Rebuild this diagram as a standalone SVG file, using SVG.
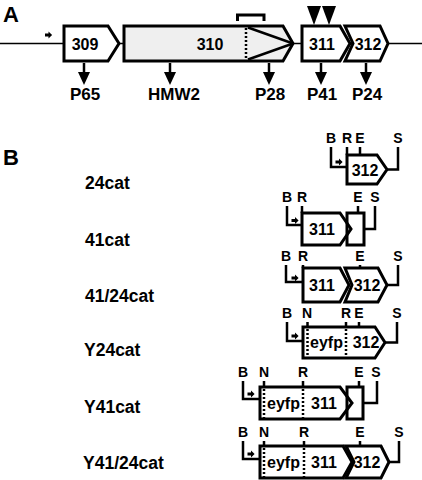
<svg xmlns="http://www.w3.org/2000/svg" width="422" height="480" viewBox="0 0 422 480">
<style>
text{font-family:"Liberation Sans",Arial,sans-serif;font-weight:bold;fill:#000}
.panel{font-size:22px}
.gl{font-size:16px;text-anchor:middle}
.pl{font-size:17px;text-anchor:middle}
.rl{font-size:17.5px}
.sl{font-size:14px;text-anchor:middle}
.box{fill:#fff;stroke:#000;stroke-width:3;stroke-linejoin:miter}
.open{fill:none;stroke:#000;stroke-width:3}
.ln{fill:none;stroke:#000;stroke-width:2.5}
.tk{fill:none;stroke:#000;stroke-width:2.5}
.dot{fill:none;stroke:#000;stroke-width:2.5;stroke-dasharray:2,2}
.conn{fill:none;stroke:#000;stroke-width:2.5}
</style>
<defs>
<marker id="ah" viewBox="0 0 13 12" refX="0" refY="6" markerWidth="13" markerHeight="12" markerUnits="userSpaceOnUse" orient="auto"><path d="M0,0 L13,6 L0,12 z" fill="#000"/></marker>
<path id="prom" d="M-3.5,-1.6 H0 V-3.6 L3.6,0 L0,3.6 V1.6 H-3.5 Z" fill="#000"/>
</defs>

<!-- Panel A -->
<text class="panel" x="3" y="22">A</text>
<line x1="0" y1="43.5" x2="422" y2="43.5" stroke="#000" stroke-width="1.6"/>
<use href="#prom" x="48.5" y="35"/>
<g id="g309">
<polygon class="box" points="64,26 108,26 119,43.5 108,61 64,61"/>
<text class="gl" x="85" y="49.5">309</text>
</g>
<g id="g310">
<polygon class="box" style="fill:#efefef" points="124,26 283,26 293,43.5 283,61 124,61"/>
<line class="dot" x1="246" y1="28" x2="246" y2="60"/>
<line x1="248" y1="27.5" x2="293" y2="43.5" stroke="#000" stroke-width="2.5"/>
<line x1="248" y1="59.5" x2="293" y2="43.5" stroke="#000" stroke-width="2.5"/>
<text class="gl" x="210" y="49.5">310</text>
<path d="M237.5,21 V15 H264 V21" fill="none" stroke="#000" stroke-width="3"/>
</g>
<g id="g311">
<polygon class="box" points="302,26 340,26 350,43.5 340,61 302,61"/>
<text class="gl" x="322" y="49.5">311</text>
<polygon points="307,6 321,6 314,25" fill="#000"/>
<polygon points="322,6 336,6 329,25" fill="#000"/>
</g>
<g id="g312">
<polygon class="box" points="345,26 380,26 388,43.5 380,61 345,61 353,43.5"/>
<text class="gl" x="368" y="49.5">312</text>
</g>
<g id="connectors">
<line class="conn" x1="84" y1="63" x2="84" y2="72" marker-end="url(#ah)"/>
<line class="conn" x1="170" y1="63" x2="170" y2="72" marker-end="url(#ah)"/>
<line class="conn" x1="269" y1="63" x2="269" y2="72" marker-end="url(#ah)"/>
<line class="conn" x1="321" y1="63" x2="321" y2="72" marker-end="url(#ah)"/>
<line class="conn" x1="366" y1="63" x2="366" y2="72" marker-end="url(#ah)"/>
</g>
<g id="proteins">
<text class="pl" x="85" y="100">P65</text>
<text class="pl" x="174" y="100">HMW2</text>
<text class="pl" x="270" y="100">P28</text>
<text class="pl" x="322" y="100">P41</text>
<text class="pl" x="367" y="100">P24</text>
</g>

<!-- Panel B -->
<text class="panel" x="3" y="165">B</text>

<g id="row-24cat">
<text class="rl" x="85" y="189">24cat</text>
<text class="sl" x="331" y="143">B</text><text class="sl" x="347" y="143">R</text><text class="sl" x="360" y="143">E</text><text class="sl" x="398" y="143">S</text>
<path class="ln" d="M331,147 V167 H347"/>
<use href="#prom" x="339" y="162"/>
<polygon class="box" points="347,155 377,155 387,169.5 377,184 347,184"/>
<path class="tk" d="M347,147 V155 M360,147 V155"/>
<path class="ln" d="M387,169.5 H398 V147"/>
<text class="gl" x="365" y="175.5">312</text>
</g>

<g id="row-41cat">
<text class="rl" x="85" y="246">41cat</text>
<text class="sl" x="287" y="202">B</text><text class="sl" x="302" y="202">R</text><text class="sl" x="358" y="202">E</text><text class="sl" x="375" y="202">S</text>
<path class="ln" d="M287,206 V225 H302"/>
<use href="#prom" x="295" y="220.5"/>
<polygon class="box" points="302,213 340,213 351,229 340,245 302,245"/>
<rect class="open" x="347" y="213" width="17" height="32"/>
<path class="tk" d="M302,206 V213 M358,206 V213"/>
<path class="ln" d="M364,229 H375 V206"/>
<text class="gl" x="322" y="235">311</text>
</g>

<g id="row-41-24cat">
<text class="rl" x="85" y="302">41/24cat</text>
<text class="sl" x="286" y="261">B</text><text class="sl" x="303" y="261">R</text><text class="sl" x="360" y="261">E</text><text class="sl" x="398" y="261">S</text>
<path class="ln" d="M286,265 V282 H303"/>
<use href="#prom" x="295" y="278"/>
<polygon class="box" points="303,268 340,268 349,285 340,302 303,302"/>
<polygon class="box" points="345,268 378,268 387,285 378,302 345,302 352,285"/>
<path class="tk" d="M303,265 V268 M360,265 V268"/>
<path class="ln" d="M387,285 H398 V265"/>
<text class="gl" x="322" y="291">311</text>
<text class="gl" x="367" y="291">312</text>
</g>

<g id="row-Y24cat">
<text class="rl" x="84" y="356">Y24cat</text>
<text class="sl" x="287" y="318">B</text><text class="sl" x="307" y="318">N</text><text class="sl" x="346" y="318">R</text><text class="sl" x="359" y="318">E</text><text class="sl" x="397" y="318">S</text>
<path class="ln" d="M287,322 V341 H303"/>
<use href="#prom" x="295" y="336"/>
<polygon class="box" points="303,327 375,327 385,342.5 375,358 303,358"/>
<path class="dot" d="M307.5,329 V357 M346,329 V357"/>
<path class="tk" d="M307.5,322 V327 M346,322 V327 M359,322 V327"/>
<path class="ln" d="M385,342.5 H397 V322"/>
<text class="gl" x="326.5" y="348">eyfp</text>
<text class="gl" x="366" y="348">312</text>
</g>

<g id="row-Y41cat">
<text class="rl" x="84" y="413">Y41cat</text>
<text class="sl" x="243" y="377">B</text><text class="sl" x="264" y="377">N</text><text class="sl" x="303" y="377">R</text><text class="sl" x="359" y="377">E</text><text class="sl" x="376" y="377">S</text>
<path class="ln" d="M243,381 V399 H260"/>
<use href="#prom" x="251" y="394"/>
<polygon class="box" points="260,387 340,387 352,403 340,419 260,419"/>
<rect class="open" x="347" y="387" width="16" height="32"/>
<path class="dot" d="M264,389 V418 M303,389 V418"/>
<path class="tk" d="M264,381 V387 M303,381 V387 M359,381 V387"/>
<path class="ln" d="M363,403 H377 V381"/>
<text class="gl" x="283.5" y="409">eyfp</text>
<text class="gl" x="324" y="409">311</text>
</g>

<g id="row-Y41-24cat">
<text class="rl" x="83" y="469">Y41/24cat</text>
<text class="sl" x="243" y="437">B</text><text class="sl" x="264" y="437">N</text><text class="sl" x="304" y="437">R</text><text class="sl" x="360" y="437">E</text><text class="sl" x="399" y="437">S</text>
<path class="ln" d="M243,441 V459 H260"/>
<use href="#prom" x="251" y="454"/>
<polygon class="box" points="260,446 343,446 352,462 343,478 260,478"/>
<polygon class="box" points="346,446 381,446 389,462 381,478 346,478 354,462"/>
<path class="dot" d="M264,448 V477 M304,448 V477"/>
<path class="tk" d="M264,441 V446 M304,441 V446 M360,441 V446"/>
<path class="ln" d="M389,462 H399 V441"/>
<text class="gl" x="283.5" y="468">eyfp</text>
<text class="gl" x="324" y="468">311</text>
<text class="gl" x="367" y="468">312</text>
</g>
</svg>
